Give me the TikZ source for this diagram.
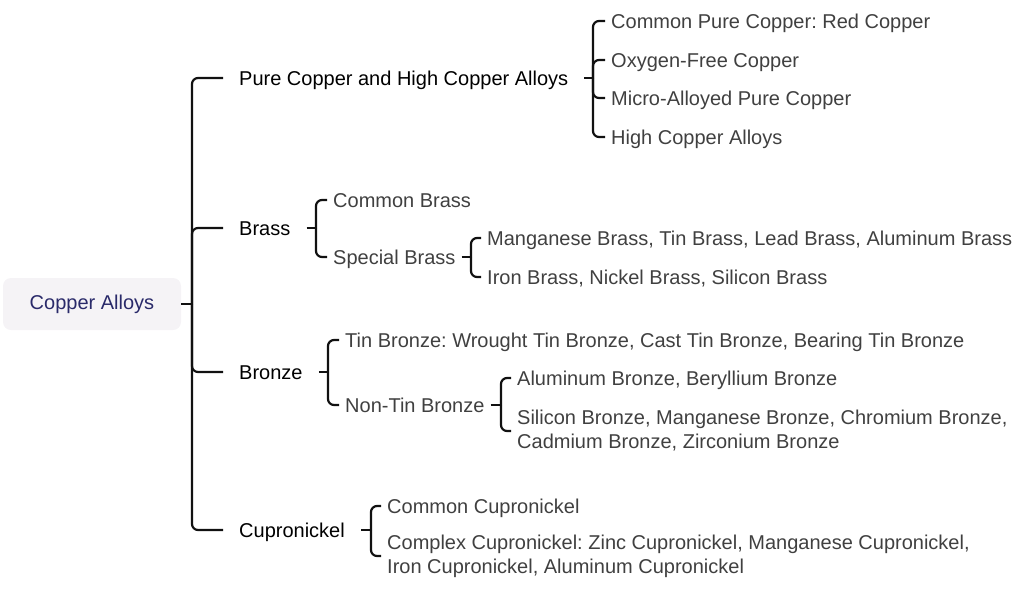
\documentclass[tikz,border=0pt]{standalone}
\usepackage{fontspec}
\setmainfont{Liberation Sans}
\frenchspacing

\definecolor{rootfill}{HTML}{F5F3F6}
\definecolor{roottext}{HTML}{2A2A6A}
\definecolor{leaftext}{HTML}{404040}
\definecolor{linecol}{HTML}{111111}
\newcommand{\mapfont}{\fontsize{20}{24}\selectfont}

\begin{document}
\begin{tikzpicture}[
    x=1pt, y=-1pt,
    root/.style={rectangle, rounded corners=8pt, fill=rootfill, text=roottext, minimum width=178pt, minimum height=52pt, font=\mapfont},
    main/.style={anchor=west, inner xsep=16pt, text height=14pt, text depth=0pt, text=black, font=\mapfont},
    sub/.style={anchor=west, inner xsep=6pt, text=leaftext, font=\mapfont},
    leaf/.style={sub, text height=14pt, text depth=0pt},
    twoline/.style={sub, align=left},
    branch/.style={draw=linecol, line width=2.2pt, rounded corners=6pt},
]
    \useasboundingbox (0,0) rectangle (1024,592);

    % root and first level
    \node[root] (alloys) at (92,304) {Copper Alloys};
    \node[main] (pure) at (223,78) {Pure Copper and High Copper Alloys};
    \node[main] (brass) at (223,228) {Brass};
    \node[main] (bronze) at (223,372) {Bronze};
    \node[main] (cupro) at (223,530) {Cupronickel};

    % pure copper
    \node[leaf] (pure1) at (605,21) {Common Pure Copper: Red Copper};
    \node[leaf] (pure2) at (605,60) {Oxygen-Free Copper};
    \node[leaf] (pure3) at (605,98) {Micro-Alloyed Pure Copper};
    \node[leaf] (pure4) at (605,137) {High Copper Alloys};

    % brass
    \node[leaf] (brass1) at (327,200) {Common Brass};
    \node[leaf] (brass2) at (327,257) {Special Brass};
    \node[leaf] (special1) at (481,238) {Manganese Brass, Tin Brass, Lead Brass, Aluminum Brass};
    \node[leaf] (special2) at (481,277) {Iron Brass, Nickel Brass, Silicon Brass};

    % bronze
    \node[leaf] (bronze1) at (339,340) {Tin Bronze: Wrought Tin Bronze, Cast Tin Bronze, Bearing Tin Bronze};
    \node[leaf] (bronze2) at (339,405) {Non-Tin Bronze};
    \node[leaf] (nontin1) at (511,378) {Aluminum Bronze, Beryllium Bronze};
    \node[twoline] (nontin2) at (511,431) {Silicon Bronze, Manganese Bronze, Chromium Bronze,\\Cadmium Bronze, Zirconium Bronze};

    % cupronickel
    \node[leaf] (cupro1) at (381,506) {Common Cupronickel};
    \node[twoline] (cupro2) at (381,556) {Complex Cupronickel: Zinc Cupronickel, Manganese Cupronickel,\\Iron Cupronickel, Aluminum Cupronickel};

    % junctions
    \coordinate (alloysj) at (192,304);
    \coordinate (purej) at (593,78);
    \coordinate (brassj) at (316,228);
    \coordinate (specialj) at (471,257);
    \coordinate (bronzej) at (328,372);
    \coordinate (nontinj) at (501,405);
    \coordinate (cuproj) at (371,530);

    % brackets
    \draw[branch] (alloys.east) -- (alloysj);
    \foreach \c in {pure,brass,bronze,cupro}
        \draw[branch] (alloysj) |- (\c.west);
    \draw[branch] (pure.east) -- (purej);
    \foreach \c in {pure1,pure2,pure3,pure4}
        \draw[branch] (purej) |- (\c.west);
    \draw[branch] (brass.east) -- (brassj);
    \foreach \c in {brass1,brass2}
        \draw[branch] (brassj) |- (\c.west);
    \draw[branch] (brass2.east) -- (specialj);
    \foreach \c in {special1,special2}
        \draw[branch] (specialj) |- (\c.west);
    \draw[branch] (bronze.east) -- (bronzej);
    \foreach \c in {bronze1,bronze2}
        \draw[branch] (bronzej) |- (\c.west);
    \draw[branch] (bronze2.east) -- (nontinj);
    \foreach \c in {nontin1,nontin2}
        \draw[branch] (nontinj) |- (\c.west);
    \draw[branch] (cupro.east) -- (cuproj);
    \foreach \c in {cupro1,cupro2}
        \draw[branch] (cuproj) |- (\c.west);
\end{tikzpicture}
\end{document}
